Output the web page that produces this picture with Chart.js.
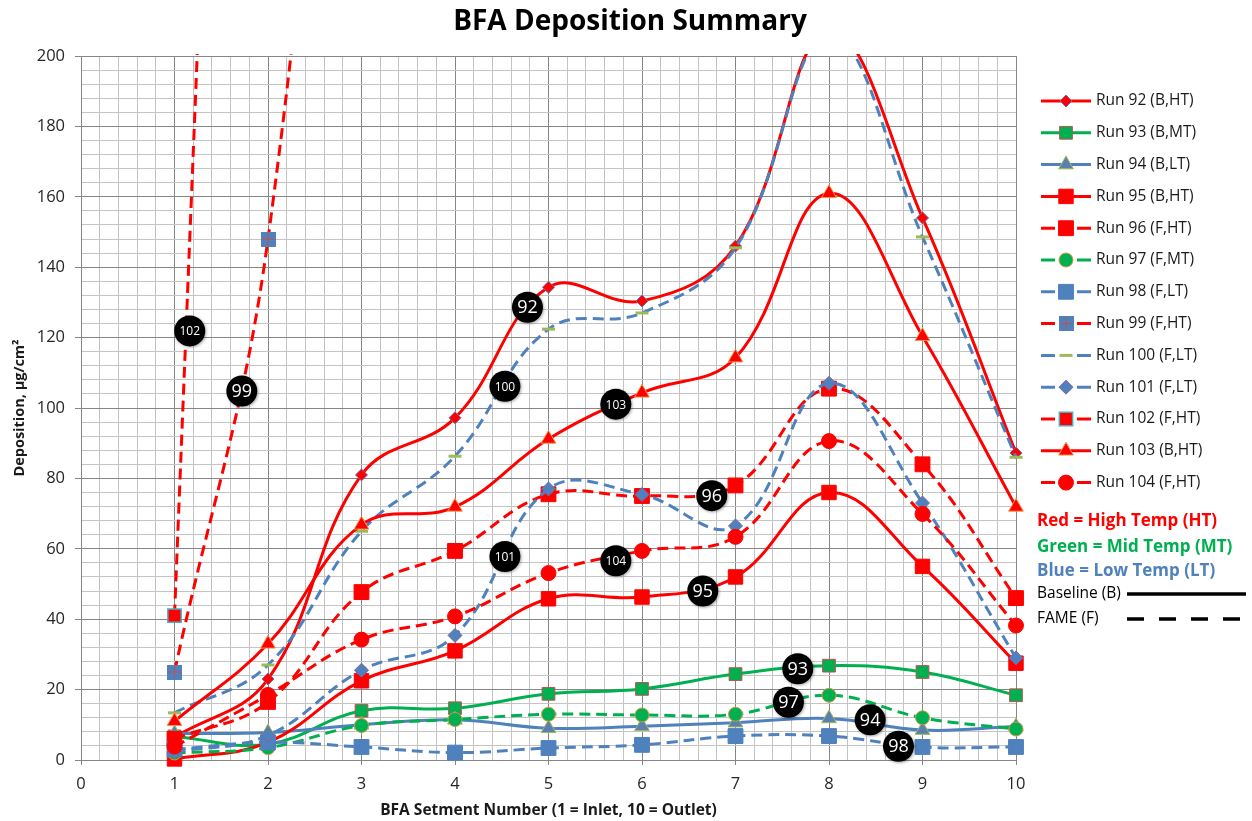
<!DOCTYPE html>
<html><head><meta charset="utf-8">
<script src="https://cdn.jsdelivr.net/npm/chart.js@4/dist/chart.umd.min.js"></script>
<style>html,body{margin:0;padding:0;background:#fff;}#wrap{width:1252px;height:821px;}</style>
</head><body><div id="wrap"><canvas id="c" width="1252" height="821"></canvas></div>
<script>
// ---------- DATA ----------
const segments = [1, 2, 3, 4, 5, 6, 7, 8, 9, 10];
const run92  = [6.5, 23, 81, 97.2, 134.3, 130.4, 146, 207, 154, 87.2];
const run93  = [6.7, 4.5, 14, 14.7, 18.8, 20.2, 24.4, 26.8, 25, 18.4];
const run94  = [7.5, 7.8, 10, 11.4, 9, 9.6, 10.6, 11.8, 8.5, 9.5];
const run95  = [0.3, 5, 22.5, 31, 45.8, 46.3, 52, 76, 55, 27.5];
const run96  = [6, 16.5, 47.7, 59.4, 75.5, 75, 78, 105.5, 84, 46];
const run97  = [2, 3.5, 9.8, 11.5, 13, 12.8, 13, 18.4, 12, 8.8];
const run98  = [3, 5, 3.7, 2.1, 3.4, 4.3, 6.8, 6.8, 3.7, 3.7];
const run99  = [25, 148, 420, null, null, null, null, null, null, null];
const run100 = [13.4, 27, 65, 86.3, 122.4, 127, 145.5, 206, 148.6, 86];
const run101 = [2.3, 7, 25.5, 35.4, 77, 75.4, 66.5, 107, 73, 29];
const run102 = [41, 700, 1400, null, null, null, null, null, null, null];
const run103 = [11, 33, 66.8, 71.9, 91.2, 104.3, 114.3, 161, 120.4, 71.9];
const run104 = [3.8, 18.5, 34.2, 40.8, 53.1, 59.4, 63.4, 90.6, 69.9, 38.2];

const seriesNames = ['Run 92 (B,HT)', 'Run 93 (B,MT)', 'Run 94 (B,LT)', 'Run 95 (B,HT)', 'Run 96 (F,HT)',
  'Run 97 (F,MT)', 'Run 98 (F,LT)', 'Run 99 (F,HT)', 'Run 100 (F,LT)', 'Run 101 (F,LT)',
  'Run 102 (F,HT)', 'Run 103 (B,HT)', 'Run 104 (F,HT)'];
const seriesValues = [run92, run93, run94, run95, run96, run97, run98, run99, run100, run101, run102, run103, run104];

const xTickLabels = ['0','1','2','3','4','5','6','7','8','9','10'];
const yTickLabels = ['0','20','40','60','80','100','120','140','160','180','200'];

// callout labels: [text, x value, y value]
const calloutText = ['102', '99', '92', '100', '103', '96', '101', '104', '95', '93', '97', '94', '98'];
const calloutX = [1.163, 1.72, 4.775, 4.534, 5.72, 6.746, 4.534, 5.72, 6.65, 7.666, 7.566, 8.44, 8.743];
const calloutY = [121.9, 104.8, 128.6, 106.2, 101.1, 75.1, 57.8, 56.6, 48, 25.9, 16.4, 11.4, 3.9];

const chartTitle = 'BFA Deposition Summary';
const noteLines = ['Red = High Temp (HT)', 'Green = Mid Temp (MT)', 'Blue = Low Temp (LT)', 'Baseline (B)', 'FAME (F)'];

// ---------- STYLES ----------
const RED = '#ff0000', GREEN = '#00b050', BLUE = '#4f81bd';
const FONT = "'Open Sans', 'Liberation Sans', sans-serif";

function crossSquare() {
  const c = document.createElement('canvas');
  c.width = 15; c.height = 15;
  const g = c.getContext('2d');
  g.fillStyle = BLUE; g.fillRect(0, 0, 15, 15);
  g.strokeStyle = '#c0504d'; g.lineWidth = 1;
  g.beginPath(); g.moveTo(7.5, 1); g.lineTo(7.5, 14); g.moveTo(1, 7.5); g.lineTo(14, 7.5); g.stroke();
  return c;
}
const styles = [
  {c: RED,   d: false, ps: 'rectRot',  r: 6,    bg: RED,   bc: '#6f6fb0', bw: 1},
  {c: GREEN, d: false, ps: 'rect',     r: 9,    bg: GREEN, bc: '#c0504d', bw: 1},
  {c: BLUE,  d: false, ps: 'triangle', r: 8.5,  bg: '#5b7fae', bc: '#9bbb59', bw: 1},
  {c: RED,   d: false, ps: 'rect',     r: 10.2, bg: RED,   bc: RED,       bw: 1},
  {c: RED,   d: true,  ps: 'rect',     r: 10.5, bg: RED,   bc: RED,       bw: 1},
  {c: GREEN, d: true,  ps: 'circle',   r: 7,    bg: GREEN, bc: '#d19a44', bw: 1},
  {c: BLUE,  d: true,  ps: 'rect',     r: 10.5, bg: BLUE,  bc: BLUE,      bw: 1},
  {c: RED,   d: true,  ps: crossSquare(), r: 7.5, bg: BLUE, bc: BLUE,     bw: 1},
  {c: BLUE,  d: true,  ps: 'line',     r: 6.5,  bg: '#9bbb59', bc: '#9bbb59', bw: 3},
  {c: BLUE,  d: true,  ps: 'rectRot',  r: 7,    bg: BLUE,  bc: '#8064a2', bw: 1},
  {c: RED,   d: true,  ps: 'rect',     r: 9.4,  bg: RED,   bc: '#4bacc6', bw: 1.5},
  {c: RED,   d: false, ps: 'triangle', r: 8.5,  bg: RED,   bc: '#f79646', bw: 1},
  {c: RED,   d: true,  ps: 'circle',   r: 7.5,  bg: RED,   bc: RED,       bw: 1}
];
const DASH = [11, 6];

const datasets = seriesValues.map((vals, i) => {
  const s = styles[i];
  return {
    label: seriesNames[i],
    data: segments.map((x, k) => ({x: x, y: vals[k]})),
    borderColor: s.c,
    borderWidth: 3,
    borderDash: s.d ? DASH : [],
    backgroundColor: s.bg,
    pointStyle: s.ps,
    pointRadius: s.r,
    pointBackgroundColor: s.bg,
    pointBorderColor: s.bc,
    pointBorderWidth: s.bw,
    tension: 0.4,
    fill: false,
    order: seriesValues.length - i,
    clip: {left: 14, right: 14, top: 2, bottom: 14}
  };
});

// ---------- PLUGINS ----------
const isInt = v => Math.abs(v - Math.round(v)) < 1e-6;
const isMajorY = v => Math.abs(v / 20 - Math.round(v / 20)) < 1e-6;

function drawMarker(ctx, s, x, y) {
  ctx.save();
  ctx.fillStyle = s.bg; ctx.strokeStyle = s.bc; ctx.lineWidth = s.bw;
  if (Chart.helpers && Chart.helpers.drawPoint) {
    Chart.helpers.drawPoint(ctx, {pointStyle: s.ps, radius: s.r, rotation: 0, borderWidth: s.bw}, x, y);
  }
  ctx.restore();
}

const calloutPlugin = {
  id: 'callouts',
  afterDatasetsDraw(chart) {
    const ctx = chart.ctx, xs = chart.scales.x, ys = chart.scales.y;
    ctx.save();
    calloutText.forEach((t, i) => {
      const px = xs.getPixelForValue(calloutX[i]);
      const py = ys.getPixelForValue(calloutY[i]);
      ctx.shadowColor = 'rgba(0,0,0,0.35)'; ctx.shadowBlur = 3; ctx.shadowOffsetX = 1; ctx.shadowOffsetY = 1;
      ctx.beginPath(); ctx.arc(px, py, 15.5, 0, Math.PI * 2); ctx.fillStyle = '#000'; ctx.fill();
      ctx.shadowColor = 'transparent';
      ctx.fillStyle = '#fff';
      ctx.font = (t.length > 2 ? '12px ' : '18px ') + FONT;
      ctx.textAlign = 'center'; ctx.textBaseline = 'middle';
      ctx.fillText(t, px, py + 1);
    });
    ctx.restore();
  }
};

const legendPlugin = {
  id: 'customLegend',
  afterDraw(chart) {
    const ctx = chart.ctx;
    ctx.save();
    // title, centred on the whole picture
    ctx.fillStyle = '#000'; ctx.font = 'bold 28px ' + FONT;
    ctx.textAlign = 'center'; ctx.textBaseline = 'alphabetic';
    ctx.fillText(chartTitle, 630, 30);

    const x0 = 1041, x1 = 1091, xm = 1066, tx = 1096;
    seriesNames.forEach((name, i) => {
      const y = 101 + i * 31.8;
      const s = styles[i];
      ctx.strokeStyle = s.c; ctx.lineWidth = 3; ctx.setLineDash([]);
      ctx.beginPath();
      if (s.d) { ctx.moveTo(x0, y); ctx.lineTo(x0 + 14, y); ctx.moveTo(x1 - 14, y); ctx.lineTo(x1, y); }
      else { ctx.moveTo(x0, y); ctx.lineTo(x1, y); }
      ctx.stroke();
      drawMarker(ctx, s, xm, y);
      ctx.fillStyle = '#1a1a1a'; ctx.font = '15.5px ' + FONT; ctx.textAlign = 'left'; ctx.textBaseline = 'middle';
      ctx.fillText(name, tx, y);
    });
    const noteY = [521, 547, 571, 594, 619];
    const noteColor = [RED, GREEN, BLUE, '#000', '#000'];
    noteLines.forEach((t, i) => {
      ctx.fillStyle = noteColor[i];
      ctx.font = (i < 3 ? 'bold 17px ' : '15.5px ') + FONT;
      ctx.textAlign = 'left'; ctx.textBaseline = 'middle';
      ctx.fillText(t, 1037, noteY[i]);
    });
    ctx.strokeStyle = '#000'; ctx.lineWidth = 3.5;
    ctx.setLineDash([]);
    ctx.beginPath(); ctx.moveTo(1127, 594); ctx.lineTo(1246, 594); ctx.stroke();
    ctx.setLineDash([17, 15]);
    ctx.beginPath(); ctx.moveTo(1127, 619); ctx.lineTo(1246, 619); ctx.stroke();
    ctx.restore();
  }
};

// ---------- CHART ----------
Chart.defaults.font.family = FONT;
new Chart(document.getElementById('c'), {
  type: 'line',
  data: {datasets: datasets},
  plugins: [calloutPlugin, legendPlugin],
  options: {
    responsive: false,
    animation: false,
    devicePixelRatio: 1,
    layout: {padding: {left: 0, right: 236, top: 56, bottom: 0}},
    elements: {line: {capBezierPoints: false}},
    plugins: {
      legend: {display: false},
      tooltip: {enabled: false},
      title: {display: false}
    },
    scales: {
      x: {
        type: 'linear', min: 0, max: 10,
        afterFit: s => { s.height = 61; },
        border: {color: '#868686', width: 1},
        grid: {
          color: c => isInt(c.tick.value) ? '#868686' : '#c4c4c4',
          tickColor: c => isInt(c.tick.value) ? '#868686' : 'rgba(0,0,0,0)',
          tickLength: 5, lineWidth: 1
        },
        ticks: {
          stepSize: 0.2, autoSkip: false, maxRotation: 0, minRotation: 0,
          color: '#262626', font: {size: 16.5}, padding: 9,
          callback: v => isInt(v) ? xTickLabels[Math.round(v)] : ''
        },
        title: {display: true, text: 'BFA Setment Number (1 = Inlet, 10 = Outlet)', color: '#1a1a1a',
          font: {size: 15.5, weight: 'bold'}, padding: {top: 0, bottom: 1}}
      },
      y: {
        type: 'linear', min: 0, max: 200,
        afterFit: s => { s.width = 81; },
        border: {color: '#868686', width: 1},
        grid: {
          color: c => isMajorY(c.tick.value) ? '#868686' : '#c4c4c4',
          tickColor: c => isMajorY(c.tick.value) ? '#868686' : 'rgba(0,0,0,0)',
          tickLength: 6, lineWidth: 1
        },
        ticks: {
          stepSize: 4, autoSkip: false, color: '#262626', font: {size: 16.5}, padding: 10,
          callback: v => isMajorY(v) ? yTickLabels[Math.round(v / 20)] : ''
        },
        title: {display: true, text: 'Deposition, µg/cm²', color: '#1a1a1a',
          font: {size: 14.5, weight: 'bold'}, padding: {top: 11, bottom: 0}}
      }
    }
  }
});
</script></body></html>
